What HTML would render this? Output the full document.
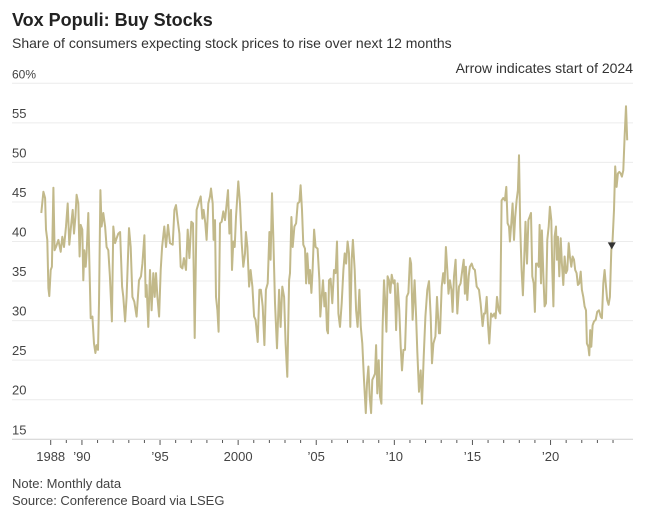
<!DOCTYPE html>
<html><head><meta charset="utf-8">
<style>
body{margin:0;background:#fff;font-family:"Liberation Sans",sans-serif;}
svg text{font-family:"Liberation Sans",sans-serif;}
</style></head>
<body>
<svg width="648" height="518" viewBox="0 0 648 518">
<text x="12" y="26" font-size="18" font-weight="bold" fill="#222">Vox Populi: Buy Stocks</text>
<text x="12" y="48" font-size="14" fill="#333">Share of consumers expecting stock prices to rise over next 12 months</text>
<text x="633" y="73" font-size="14" fill="#333" text-anchor="end">Arrow indicates start of 2024</text>
<g id="grid"></g>
<g id="xaxis"></g>
<path id="line" fill="none" stroke="#c2b98a" stroke-width="2" stroke-linejoin="round"></path>
<path id="arrow" fill="#333"></path>
<text x="12" y="488" font-size="13" fill="#444">Note: Monthly data</text>
<text x="12" y="505" font-size="13" fill="#444">Source: Conference Board via LSEG</text>
</svg>
<script>
const yTicks=[60,55,50,45,40,35,30,25,20,15];
const xTickYears=[1988,1989,1990,1991,1992,1993,1994,1995,1996,1997,1998,1999,2000,2001,2002,2003,2004,2005,2006,2007,2008,2009,2010,2011,2012,2013,2014,2015,2016,2017,2018,2019,2020,2021,2022,2023,2024];
const xLabels={1988:"1988",1990:"\u201990",1995:"\u201995",2000:"2000",2005:"\u201905",2010:"\u201910",2015:"\u201915",2020:"\u201920"};
const arrowYear=2023.92;
const dates=[1987.40,1987.53,1987.64,1987.70,1987.78,1987.85,1987.91,1988.0,1988.08,1988.17,1988.25,1988.34,1988.49,1988.64,1988.74,1988.85,1988.98,1989.09,1989.19,1989.30,1989.41,1989.49,1989.58,1989.66,1989.77,1989.85,1989.92,1990.02,1990.09,1990.15,1990.24,1990.30,1990.41,1990.47,1990.56,1990.67,1990.77,1990.86,1990.94,1991.03,1991.09,1991.18,1991.26,1991.37,1991.48,1991.58,1991.69,1991.79,1991.92,1992.01,1992.12,1992.22,1992.33,1992.44,1992.57,1992.65,1992.76,1992.86,1993.01,1993.12,1993.23,1993.35,1993.50,1993.65,1993.78,1993.87,1994.0,1994.08,1994.14,1994.25,1994.36,1994.46,1994.57,1994.66,1994.74,1994.83,1994.94,1995.04,1995.13,1995.27,1995.38,1995.51,1995.64,1995.81,1995.92,1996.02,1996.13,1996.24,1996.32,1996.43,1996.53,1996.66,1996.77,1996.88,1997.00,1997.11,1997.22,1997.34,1997.49,1997.60,1997.71,1997.79,1997.90,1997.98,1998.09,1998.20,1998.26,1998.37,1998.43,1998.52,1998.58,1998.67,1998.75,1998.84,1998.95,1999.05,1999.16,1999.27,1999.35,1999.44,1999.54,1999.61,1999.69,1999.78,1999.86,2000.01,
2000.12,2000.23,2000.33,2000.44,2000.50,2000.59,2000.70,2000.80,2000.91,2001.02,2001.12,2001.25,2001.36,2001.46,2001.57,2001.68,2001.78,2001.89,2002.0,2002.08,2002.17,2002.25,2002.36,2002.49,2002.62,2002.72,2002.83,2002.94,2003.04,2003.15,2003.26,2003.32,2003.41,2003.49,2003.60,2003.71,2003.81,2003.92,2004.00,2004.09,2004.17,2004.28,2004.35,2004.43,2004.54,2004.60,2004.69,2004.77,2004.86,2004.96,2005.09,2005.20,2005.26,2005.35,2005.43,2005.52,2005.60,2005.69,2005.75,2005.82,2005.92,2006.03,2006.14,2006.24,2006.33,2006.42,2006.52,2006.63,2006.74,2006.82,2006.91,2007.01,2007.10,2007.18,2007.27,2007.35,2007.46,2007.55,2007.65,2007.76,2007.85,2007.95,2008.06,2008.17,2008.25,2008.34,2008.42,2008.51,2008.59,2008.68,2008.76,2008.83,2008.91,2009.00,2009.08,2009.17,2009.25,2009.34,2009.42,2009.49,2009.57,2009.66,2009.74,2009.83,2009.94,2010.02,2010.11,2010.21,2010.32,2010.41,2010.49,2010.58,2010.68,2010.79,2010.90,2011.00,2011.07,2011.17,2011.30,2011.39,2011.47,2011.58,2011.69,2011.77,2011.88,2011.99,2012.11,2012.22,2012.33,2012.41,2012.50,2012.63,2012.73,2012.86,
2012.92,2013.03,2013.13,2013.22,2013.30,2013.39,2013.47,2013.56,2013.65,2013.73,2013.82,2013.92,2014.03,2014.14,2014.24,2014.35,2014.44,2014.52,2014.58,2014.67,2014.76,2014.84,2014.95,2015.05,2015.16,2015.27,2015.42,2015.52,2015.65,2015.74,2015.82,2015.91,2015.99,2016.08,2016.19,2016.29,2016.40,2016.48,2016.57,2016.68,2016.78,2016.87,2016.97,2017.08,2017.17,2017.25,2017.34,2017.40,2017.49,2017.57,2017.66,2017.74,2017.83,2017.91,2017.98,2018.06,2018.15,2018.23,2018.32,2018.40,2018.49,2018.58,2018.66,2018.75,2018.83,2018.92,2019.00,2019.07,2019.15,2019.24,2019.30,2019.39,2019.45,2019.54,2019.62,2019.71,2019.79,2019.88,2019.96,2020.05,2020.11,2020.18,2020.26,2020.35,2020.41,2020.47,2020.56,2020.65,2020.73,2020.82,2020.90,2020.99,2021.07,2021.16,2021.24,2021.33,2021.41,2021.50,2021.58,2021.67,2021.75,2021.84,2021.93,2022.01,2022.10,2022.18,2022.27,2022.33,2022.42,2022.48,2022.54,2022.61,2022.69,2022.78,2022.89,2022.99,2023.10,2023.21,2023.29,2023.38,2023.46,2023.55,2023.63,2023.72,2023.80,2023.89,2023.97,2024.06,2024.14,2024.23,2024.31,2024.40,2024.49,2024.57,2024.66,2024.74,2024.83,2024.91];
const values=[43.6,46.3,45.5,41.5,40.2,34.1,33.1,36.4,36.8,46.8,38.9,39.3,40.2,38.7,40.6,39.3,41.9,44.8,39.6,41.9,44,41,43.1,45.9,44.8,38.1,42.1,41.5,35.1,38.9,36.8,38.5,43.6,37.7,30.3,30.5,27.1,25.9,26.9,26.3,32.2,46.5,41.9,43.6,41.9,39.3,38.9,35.6,29.9,41.9,39.8,40.4,41,41.2,34.3,33,29.9,33,41.7,39.3,33,32.4,30.5,35.1,35.6,37.2,40.8,33,34.5,29.2,36.4,31.3,36,33,36,33,30.5,36.4,39.3,41.9,39.3,42.1,39.8,39.6,44,44.6,42.7,41,36.8,36.6,37.9,36.4,41.5,37.9,42.5,42.3,27.8,44,45,45.7,42.9,44,42.3,40.2,44.8,45.7,46.7,44.8,40.2,42.7,33,31.3,28.6,42.3,42.5,43.8,42.7,44.8,46.5,41,44,36.4,40,39.3,43.1,47.6,
44.8,39.8,36.8,38.5,41.2,39.3,34.3,36.4,34.3,30.5,30.1,27.3,33.9,33.9,31.8,26.9,33.9,34.7,41.2,37.7,46.1,40.6,32.2,26.5,33.9,29.2,34.3,33,27.1,22.9,35.1,36,43.1,39.3,41.9,42.3,44.8,45,47.1,44,39.6,39.1,34.7,38.5,34.7,36.4,33.5,36.4,41.5,39.3,39.1,35.1,30.5,33,35.1,31.8,33.5,28.8,28.4,35.1,35.3,32.2,36.4,36,40,30.9,29.2,32.2,36.4,38.5,37.2,40,38.5,29.2,37.7,40.2,36.4,31.3,29.2,33.9,29.2,27.1,22.5,18.3,22.1,24.2,20.4,18.3,22.5,22.9,23.3,26.9,20.8,25,20.4,19.5,29.2,35.1,32.2,28.6,35.6,35.1,33.5,35.8,34.7,35.1,28.8,34.7,31.3,26.7,23.7,26.3,26.3,33,33.5,37.9,37.2,30.1,35.1,30.5,26.1,21,23.7,19.5,25.4,30.5,33.9,35,30.5,24.6,27.1,28,33,28.4,
28.4,34.3,36,34.7,39.3,36.4,33.4,35.1,33.9,31.1,35.6,37.7,30.9,34.3,34.7,36.4,37.7,33.4,36.8,32.6,35.6,36.8,37.2,36.6,36.4,34.3,33.9,32.2,29.3,30.9,30.9,33,29.7,27.1,30.9,30.5,30.9,30.3,33,31.3,30.9,45.2,45.5,45.2,46.9,42.3,41.9,40,42.3,44.8,40.2,43.1,45.2,46.5,50.9,41.9,36.4,33.2,38.1,42.5,37.2,42.7,43.1,43.6,35.6,34.7,31.1,37.2,37.2,36.8,42.1,34.7,41.4,35.6,31.8,32.2,40.2,41.9,44.4,42.7,36.4,31.8,40.6,41.9,37.7,40.6,35.6,40.4,37.2,34.5,38.1,36,36.4,39.8,38.1,36.8,38.1,37.7,36.4,36,34.5,34.7,36.2,33.9,33,31.8,31.3,27.1,26.7,25.6,28.8,26.7,29.4,29.9,30.1,31.1,31.3,30.5,30.3,34.7,36.4,34.3,32.6,32,33,38.9,40.2,44,49.5,46.9,48.6,48.8,48.6,48.2,49,53.2,57.1,52.8];

const NS="http://www.w3.org/2000/svg";
const X=y=>50.7+(y-1988)*15.62;
const Y=v=>83.3+(60-v)*7.91;
const grid=document.getElementById('grid');
yTicks.forEach(t=>{
  const l=document.createElementNS(NS,'line');
  l.setAttribute('x1',12);l.setAttribute('x2',633);
  l.setAttribute('y1',Y(t));l.setAttribute('y2',Y(t));
  l.setAttribute('stroke',t===15?'#cfcfcf':'#ececec');l.setAttribute('stroke-width',1);
  
  
  grid.appendChild(l);
  const tx=document.createElementNS(NS,'text');
  tx.setAttribute('x',12);tx.setAttribute('y',Y(t)-5);
  tx.setAttribute('font-size',t===60?12:13);tx.setAttribute('fill','#444');
  tx.textContent=t===60?'60%':String(t);
  
  
  grid.appendChild(tx);
});
const xa=document.getElementById('xaxis');
xTickYears.forEach(yr=>{
  const l=document.createElementNS(NS,'line');
  l.setAttribute('x1',X(yr));l.setAttribute('x2',X(yr));
  l.setAttribute('y1',440);l.setAttribute('y2',xLabels[yr]?445:443);
  l.setAttribute('stroke','#555');l.setAttribute('stroke-width',1);
  
  
  xa.appendChild(l);
  if(xLabels[yr]){
    const tx=document.createElementNS(NS,'text');
    tx.setAttribute('x',X(yr));tx.setAttribute('y',461);
    tx.setAttribute('font-size',13);tx.setAttribute('fill','#444');tx.setAttribute('text-anchor','middle');
    tx.textContent=xLabels[yr];
    
    
    xa.appendChild(tx);
  }
});
let d='';
dates.forEach((dt,i)=>{d+=(i?'L':'M')+X(dt).toFixed(1)+','+Y(values[i]).toFixed(1);});
document.getElementById('line').setAttribute('d',d);
let av=values[0];
for(let i=1;i<dates.length;i++){if(dates[i]>=arrowYear){const t=(arrowYear-dates[i-1])/(dates[i]-dates[i-1]);av=values[i-1]+t*(values[i]-values[i-1]);break;}}
const ax=X(arrowYear),ay=Y(av)+3;
document.getElementById('arrow').setAttribute('d',`M${ax-4},${ay-7}L${ax+4},${ay-7}L${ax},${ay}Z`);
</script>
</body></html>
